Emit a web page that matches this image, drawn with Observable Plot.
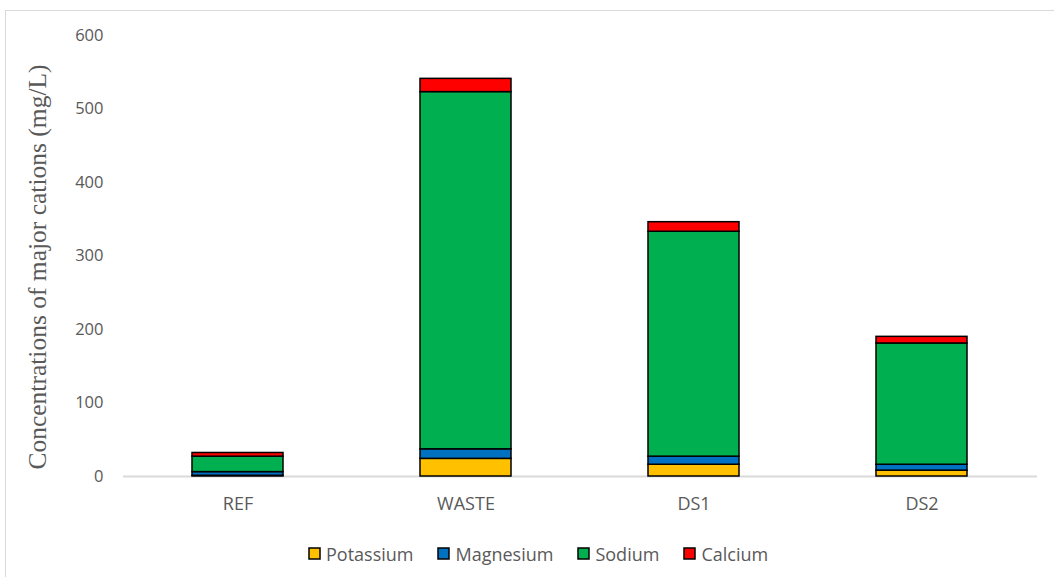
<!DOCTYPE html>
<html>
<head>
<meta charset="utf-8">
<script src="https://cdn.jsdelivr.net/npm/d3@7"></script>
<script src="https://cdn.jsdelivr.net/npm/@observablehq/plot@0.6"></script>
<style>
  html, body { margin: 0; padding: 0; background: #fff; overflow: hidden; }
  #wrap { position: relative; width: 1054px; height: 577px; }
  #frame { position: absolute; left: 5px; top: 10px; width: 1200px; height: 700px;
           border: 1px solid #d9d9d9; box-sizing: border-box; }
  #chart { position: absolute; left: 0; top: 0; }
  #legend { position: absolute; left: 309px; top: 537px; }
  #legend span { margin-right: 25px !important; }
  #legend svg { overflow: visible; margin-right: 6px !important; }
  #legend svg rect { stroke: #000; stroke-width: 1.5px; }
</style>
</head>
<body>
<div id="wrap">
  <div id="frame"></div>
  <div id="chart"></div>
  <div id="legend"></div>
</div>
<script>
// Sampling sites
const sites = ["REF", "WASTE", "DS1", "DS2"];

// Major cation concentrations (mg/L) per site
const potassium = [1, 24, 16, 8];
const magnesium = [5, 13, 11, 8];
const sodium    = [21, 486, 306, 165];
const calcium   = [5, 18, 13, 9];

// Series order (bottom to top) and colours
const cations = ["Potassium", "Magnesium", "Sodium", "Calcium"];
const colors  = ["#FFC000", "#0070C0", "#00B050", "#FF0000"];

const yTicks = [0, 100, 200, 300, 400, 500, 600];

const seriesValues = [potassium, magnesium, sodium, calcium];
const rows = [];
sites.forEach((site, i) => {
  cations.forEach((cation, j) => {
    rows.push({ site, cation, value: seriesValues[j][i] });
  });
});

const chart = Plot.plot({
  width: 1054,
  height: 530,
  marginTop: 35,
  marginBottom: 54,
  marginLeft: 123,
  marginRight: 17,
  style: { fontFamily: "Open Sans, sans-serif", fontSize: "16px", color: "#595959", background: "transparent" },
  x: { domain: sites, paddingInner: 0.6, paddingOuter: 0.3, label: null, axis: null },
  y: { domain: [0, 600], label: null, axis: null },
  color: { domain: cations, range: colors },
  marks: [
    Plot.axisY(yTicks, { tickSize: 0, tickPadding: 20, fontSize: 16.5 }),
    Plot.axisX({ tickSize: 0, tickPadding: 21, fontSize: 18 }),
    Plot.ruleY([0], { stroke: "#d9d9d9", strokeWidth: 2 }),
    Plot.barY(rows, Plot.stackY({
      x: "site", y: "value", fill: "cation", order: cations,
      stroke: "#000", strokeWidth: 1.5
    })),
    Plot.text(["Concentrations of major cations (mg/L)"], {
      frameAnchor: "left", textAnchor: "middle", dx: -86, dy: 11, rotate: -90,
      fontFamily: "Liberation Serif, serif", fontSize: 25.5, fill: "#595959"
    })
  ]
});
document.getElementById("chart").appendChild(chart);

const legend = Plot.legend({
  color: { domain: cations, range: colors },
  legend: "swatches",
  swatchSize: 11,
  className: "cations-legend",
  style: { fontFamily: "Open Sans, sans-serif", fontSize: "18px", color: "#595959" }
});
document.getElementById("legend").appendChild(legend);
</script>
</body>
</html>
